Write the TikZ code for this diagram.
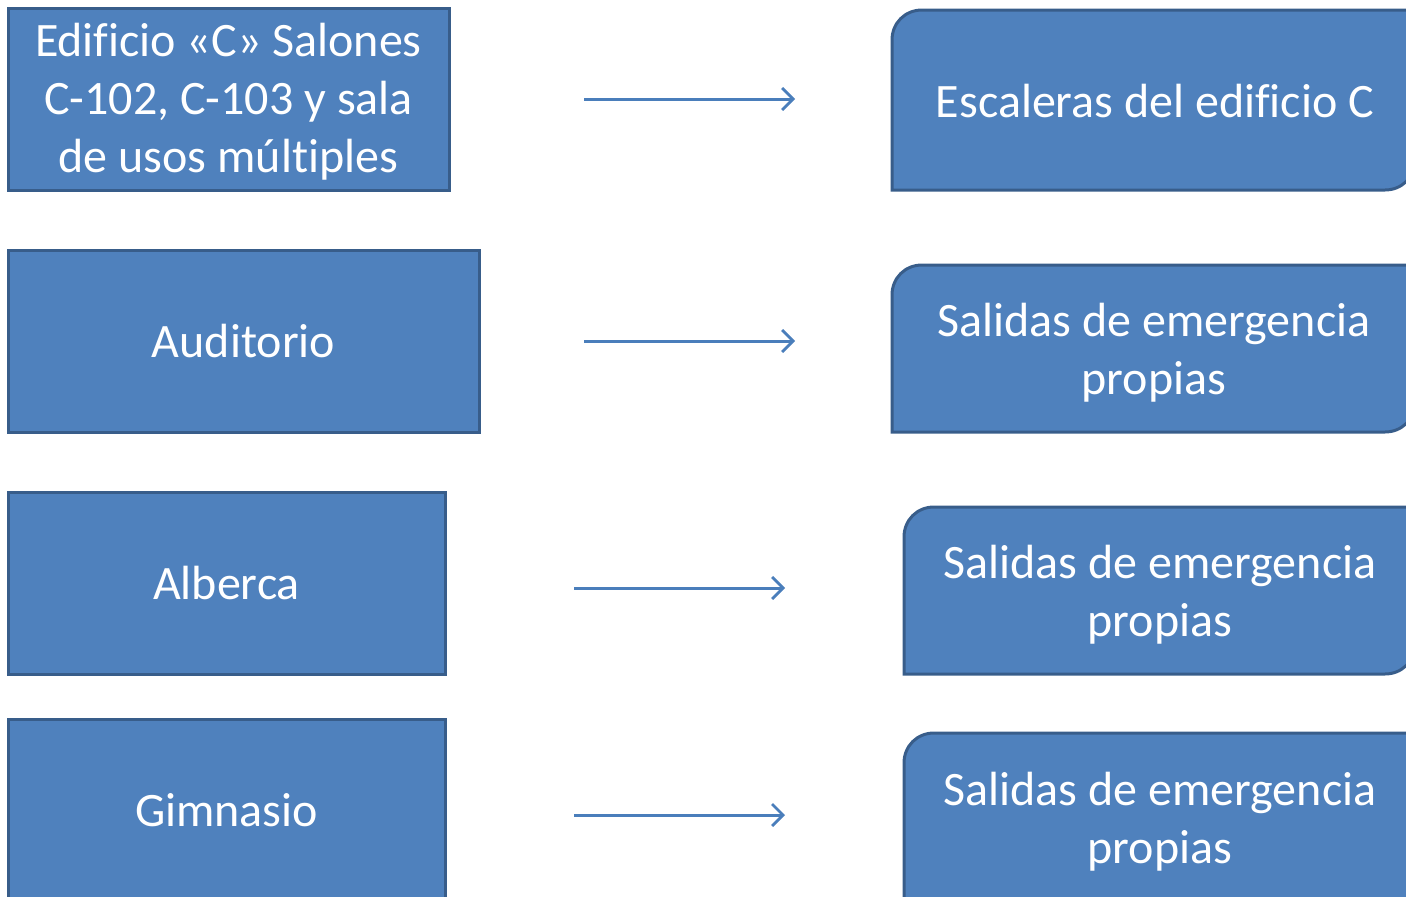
\documentclass[tikz,border=0pt]{standalone}
\usepackage{fontspec}
\setmainfont[Ligatures=NoCommon]{Carlito}
\usetikzlibrary{arrows.meta}
\definecolor{boxfill}{HTML}{4F81BD}
\definecolor{boxline}{HTML}{385D8A}
\definecolor{arrowc}{HTML}{4A7EBB}
\newcommand\rshape[4]{%
  \path[rbox] (#1,#4) -- (#1,#2+30) .. controls (#1,#2+13) and (#1+13,#2) .. (#1+30,#2)
    -- (#3,#2) -- (#3,#4-30) .. controls (#3,#4-13) and (#3-13,#4) .. (#3-30,#4) -- cycle;}
\begin{document}
\begin{tikzpicture}[x=1pt,y=-1pt,
  txt/.style={text=white,align=center,font=\fontsize{48}{58}\selectfont},
  lbox/.style={txt,draw=boxline,fill=boxfill,line width=3pt,inner sep=0pt},
  rbox/.style={draw=boxline,fill=boxfill,line width=3pt},
  conn/.style={draw=arrowc,line width=3pt,-{Straight Barb[length=11pt,width=22pt,line width=2.8pt]}}]
\useasboundingbox (0,0) rectangle (1406,897);
\clip (0,0) rectangle (1406,897);
% left boxes
\node[lbox,minimum width=441pt,minimum height=182pt] (l1) at (228.5,99) {};
\node[txt] (l1t) at (228.5,102) {Edificio «C» Salones\\C-102, C-103 y sala\\de usos múltiples};
\node[lbox,minimum width=471pt,minimum height=182pt] (l2) at (243.5,341) {Auditorio};
\node[lbox,minimum width=437pt,minimum height=182pt] (l3) at (226.5,583) {Alberca};
\node[lbox,minimum width=437pt,minimum height=182pt] (l4) at (226.5,810) {Gimnasio};
% right boxes
\rshape{892}{10}{1415}{190}
\rshape{892}{265}{1415}{432}
\rshape{904}{507}{1415}{674}
\rshape{904}{733}{1415}{930}
\node[txt] (r1) at (1155,101) {Escaleras del edificio C};
\node[txt] (r2) at (1154,353) {Salidas de emergencia\\propias};
\node[txt] (r3) at (1160,595) {Salidas de emergencia\\propias};
\node[txt] (r4) at (1160,822) {Salidas de emergencia\\propias};
% arrows
\coordinate (a1s) at (584,99);  \coordinate (a1e) at (795,99);
\coordinate (a2s) at (584,341); \coordinate (a2e) at (795,341);
\coordinate (a3s) at (574,588); \coordinate (a3e) at (785,588);
\coordinate (a4s) at (574,815); \coordinate (a4e) at (785,815);
\draw[conn] (a1s) -- (a1e);
\draw[conn] (a2s) -- (a2e);
\draw[conn] (a3s) -- (a3e);
\draw[conn] (a4s) -- (a4e);
\end{tikzpicture}
\end{document}
